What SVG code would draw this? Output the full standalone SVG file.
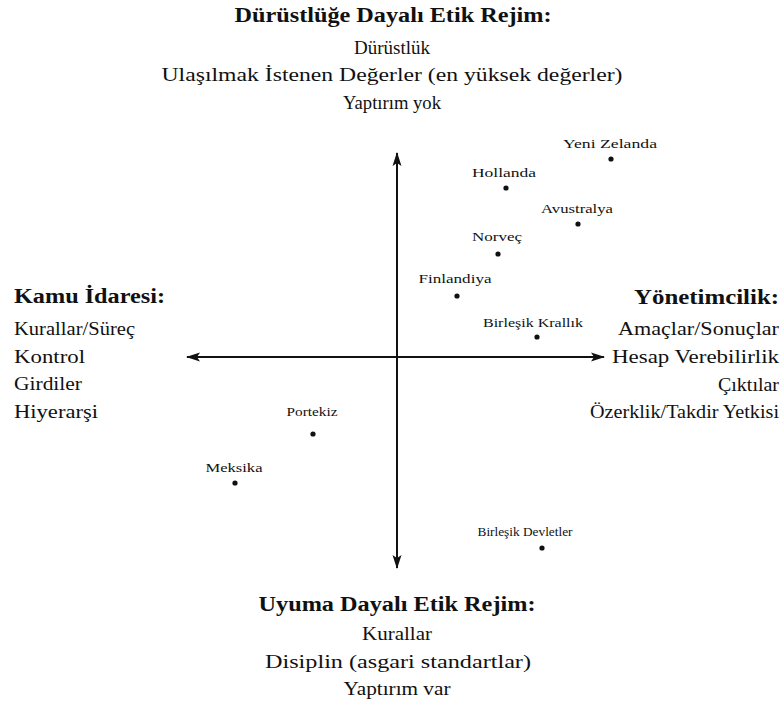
<svg xmlns="http://www.w3.org/2000/svg" width="782" height="710" viewBox="0 0 782 710">
  <style>
    text { fill: #111; }
    .head { font-size: 20px; font-weight: bold; }
    .item { font-size: 18px; }
    .country { font-size: 13px; }
    .mid { text-anchor: middle; }
    .end { text-anchor: end; }
    .axis { stroke: #111; stroke-width: 2; fill: none; }
    .dot { fill: #111; }
  </style>
  <defs>
    <marker id="arrow" viewBox="0 0 14 10" refX="13" refY="5" markerWidth="14" markerHeight="10" markerUnits="userSpaceOnUse" orient="auto">
      <path d="M0,0.5 L14,5 L0,9.5 L3,5 Z" fill="#111"/>
    </marker>
  </defs>

  <rect width="782" height="710" fill="#fff"/>

  <!-- axes -->
  <g id="connectors">
    <line class="axis" x1="397" y1="357" x2="397" y2="153" marker-end="url(#arrow)"/>
    <line class="axis" x1="397" y1="357" x2="397" y2="568" marker-end="url(#arrow)"/>
    <line class="axis" x1="397" y1="357" x2="187" y2="357" marker-end="url(#arrow)"/>
    <line class="axis" x1="397" y1="357" x2="604" y2="357" marker-end="url(#arrow)"/>
  </g>

  <g font-family="Liberation Serif, DejaVu Serif, serif">
  <!-- top pole -->
  <g id="integrity-regime">
    <text class="head mid" x="393" y="22" textLength="317" lengthAdjust="spacingAndGlyphs">Dürüstlüğe Dayalı Etik Rejim:</text>
    <text class="item mid" x="392" y="54" textLength="76" lengthAdjust="spacingAndGlyphs">Dürüstlük</text>
    <text class="item mid" x="392" y="81" textLength="461" lengthAdjust="spacingAndGlyphs">Ulaşılmak İstenen Değerler (en yüksek değerler)</text>
    <text class="item mid" x="392" y="109" textLength="98" lengthAdjust="spacingAndGlyphs">Yaptırım yok</text>
  </g>

  <!-- left pole -->
  <g id="public-administration">
    <text class="head" x="14" y="303" textLength="151" lengthAdjust="spacingAndGlyphs">Kamu İdaresi:</text>
    <text class="item" x="14" y="335" textLength="121" lengthAdjust="spacingAndGlyphs">Kurallar/Süreç</text>
    <text class="item" x="14" y="363" textLength="71" lengthAdjust="spacingAndGlyphs">Kontrol</text>
    <text class="item" x="14" y="390" textLength="68" lengthAdjust="spacingAndGlyphs">Girdiler</text>
    <text class="item" x="14" y="418" textLength="84" lengthAdjust="spacingAndGlyphs">Hiyerarşi</text>
  </g>

  <!-- right pole -->
  <g id="managerialism">
    <text class="head end" x="779" y="304" textLength="145" lengthAdjust="spacingAndGlyphs">Yönetimcilik:</text>
    <text class="item end" x="779" y="335" textLength="161" lengthAdjust="spacingAndGlyphs">Amaçlar/Sonuçlar</text>
    <text class="item end" x="779" y="363" textLength="167" lengthAdjust="spacingAndGlyphs">Hesap Verebilirlik</text>
    <text class="item end" x="779" y="391" textLength="61" lengthAdjust="spacingAndGlyphs">Çıktılar</text>
    <text class="item end" x="779" y="418" textLength="189" lengthAdjust="spacingAndGlyphs">Özerklik/Takdir Yetkisi</text>
  </g>

  <!-- bottom pole -->
  <g id="compliance-regime">
    <text class="head mid" x="397" y="611" textLength="277" lengthAdjust="spacingAndGlyphs">Uyuma Dayalı Etik Rejim:</text>
    <text class="item mid" x="397" y="640" textLength="70" lengthAdjust="spacingAndGlyphs">Kurallar</text>
    <text class="item mid" x="398" y="668" textLength="266" lengthAdjust="spacingAndGlyphs">Disiplin (asgari standartlar)</text>
    <text class="item mid" x="397" y="695" textLength="107" lengthAdjust="spacingAndGlyphs">Yaptırım var</text>
  </g>

  <!-- countries -->
  <g id="new-zealand">
    <text class="country mid" x="610" y="148" textLength="94" lengthAdjust="spacingAndGlyphs">Yeni Zelanda</text>
    <circle class="dot" cx="611" cy="159" r="2.6"/>
  </g>
  <g id="netherlands">
    <text class="country mid" x="504" y="177" textLength="64" lengthAdjust="spacingAndGlyphs">Hollanda</text>
    <circle class="dot" cx="506" cy="188" r="2.6"/>
  </g>
  <g id="australia">
    <text class="country mid" x="577" y="213" textLength="72" lengthAdjust="spacingAndGlyphs">Avustralya</text>
    <circle class="dot" cx="578" cy="224" r="2.6"/>
  </g>
  <g id="norway">
    <text class="country mid" x="497" y="241" textLength="50" lengthAdjust="spacingAndGlyphs">Norveç</text>
    <circle class="dot" cx="498" cy="254" r="2.6"/>
  </g>
  <g id="finland">
    <text class="country mid" x="455" y="283" textLength="73" lengthAdjust="spacingAndGlyphs">Finlandiya</text>
    <circle class="dot" cx="457" cy="296" r="2.6"/>
  </g>
  <g id="united-kingdom">
    <text class="country mid" x="533" y="327" textLength="100" lengthAdjust="spacingAndGlyphs">Birleşik Krallık</text>
    <circle class="dot" cx="537" cy="337" r="2.6"/>
  </g>
  <g id="portugal">
    <text class="country mid" x="312" y="416" textLength="51" lengthAdjust="spacingAndGlyphs">Portekiz</text>
    <circle class="dot" cx="313" cy="434" r="2.6"/>
  </g>
  <g id="mexico">
    <text class="country mid" x="234" y="472" textLength="57" lengthAdjust="spacingAndGlyphs">Meksika</text>
    <circle class="dot" cx="235" cy="483" r="2.6"/>
  </g>
  <g id="united-states">
    <text class="country mid" x="525" y="536" textLength="95" lengthAdjust="spacingAndGlyphs">Birleşik Devletler</text>
    <circle class="dot" cx="542" cy="548" r="2.6"/>
  </g>
  </g>
</svg>
